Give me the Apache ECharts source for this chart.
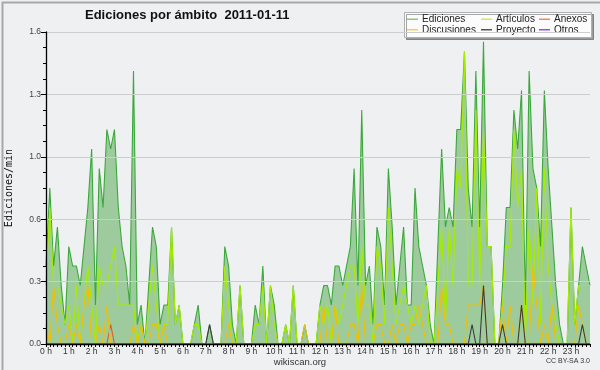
<!DOCTYPE html>
<html>
<head>
<meta charset="utf-8">
<script src="https://cdn.jsdelivr.net/npm/echarts@6/dist/echarts.min.js"></script>
<style>
html,body{margin:0;padding:0;background:#eff0f2;}
#c{width:600px;height:370px;}
</style>
</head>
<body>
<div id="c"></div>
<script>
// Hour tick labels
const hourLabels = ['0 h','1 h','2 h','3 h','4 h','5 h','6 h','7 h','8 h','9 h','10 h','11 h',
  '12 h','13 h','14 h','15 h','16 h','17 h','18 h','19 h','20 h','21 h','22 h','23 h'];
// 10-minute categories
const times = [];
for (let h = 0; h < 24; h++) for (let m = 0; m < 60; m += 10) times.push(h + ':' + (m < 10 ? '0' : '') + m);

// Edits per minute, one value per 10-minute bin (6 per hour)
const ediciones = [
  0.4,0.8,0.4,0.6,0.3,0.1,  0.5,0.4,0.4,0.3,0.5,0.7,  1.0,0.2,0.9,0.7,1.1,1.0,  1.1,0.7,0.5,0.4,0.2,1.4,
  0.1,0.2,0,0.3,0.6,0.5,    0.1,0.2,0.2,0.6,0.1,0.2,  0,0,0,0.1,0.2,0,        0,0.1,0,0,0,0.5,
  0.4,0.1,0,0.3,0,0,        0,0.2,0.1,0.4,0,0.3,      0.2,0,0,0.1,0,0.3,      0,0,0.1,0,0,0,
  0.2,0.3,0.3,0.2,0.4,0.4,  0.3,0.4,0.5,0.9,0.3,1.2,  0.3,0.4,0.1,0.6,0.5,0.2,  0.9,0.6,0.2,0.4,0.6,0.2,
  0.2,0.8,0.5,0.4,0.3,0.1,  0,0.5,1.0,0.6,0.7,0.6,    1.1,1.1,1.5,0.8,0.6,1.4,  0.6,1.55,0.5,0.5,0,0,
  0.3,0.7,0.7,1.2,1.0,1.3,  0.2,1.4,0.9,0.8,0.5,1.3,  0.9,0.6,0.3,0.1,0,0,    0.7,0.1,0.3,0.5,0.4,0.3
];
const articulos = [
  0.3,0.7,0.3,0.3,0.2,0.1,  0.2,0,0.3,0,0.2,0.4,      0.2,0,0.4,0.3,0.3,0.4,  0.5,0.2,0.2,0.2,0.2,0.2,
  0,0.1,0,0.2,0.4,0.2,      0,0.1,0.1,0.6,0.1,0.2,    0,0,0,0.1,0.1,0,        0,0,0,0,0,0.4,
  0.2,0,0,0.3,0,0,          0,0.1,0.1,0.3,0,0.3,      0.1,0,0,0.1,0,0.3,      0,0,0,0,0,0,
  0.2,0.1,0.2,0,0.2,0.1,    0.2,0.3,0.4,0.4,0.1,0.5,  0.2,0.2,0,0.5,0.4,0.1,  0.7,0.4,0.1,0.2,0.3,0.2,
  0.1,0.2,0.1,0.2,0.3,0,    0,0.3,0.6,0.1,0.6,0.3,    0.9,0.8,1.5,0.3,0.3,1.2,  0.3,1.1,0.5,0.5,0,0,
  0.2,0.5,0.5,1.1,0.7,0.9,  0,0.6,0.2,0.8,0.1,0.9,    0.4,0.2,0.1,0,0,0,      0.7,0.1,0.3,0.3,0.3,0.3
];
const anexos = [
  0,0,0,0,0,0, 0,0,0,0,0,0, 0,0,0,0,0,0.1, 0,0,0,0,0,0,
  0,0,0,0,0,0, 0,0,0,0,0,0, 0,0,0,0,0,0,   0,0,0,0,0,0,
  0,0,0,0,0,0, 0,0,0,0,0,0, 0,0,0,0,0,0,   0,0,0,0,0,0,
  0,0,0,0,0,0, 0,0,0,0,0,0, 0,0,0,0,0,0,   0,0,0,0,0,0,
  0,0,0,0,0,0, 0,0,0,0,0,0, 0,0,0,0,0,0,   0,0,0,0,0,0,
  0,0,0,0,0,0, 0,0,0,0,0,0, 0,0,0,0,0,0,   0,0,0,0,0,0
];
const discusiones = [
  0.1,0,0.3,0.1,0,0,   0.1,0,0.1,0,0.2,0.3,   0,0,0.1,0,0.2,0,      0,0,0,0,0,0.1,
  0,0.1,0,0,0.1,0.1,   0,0.1,0,0,0,0,         0,0,0,0,0,0,          0,0,0,0,0,0,
  0.1,0,0,0,0,0,       0,0,0,0,0,0,           0,0,0,0,0,0,          0,0,0.1,0,0,0,
  0,0.2,0,0,0.2,0,     0,0,0.1,0.1,0,0.3,     0,0,0,0.1,0.1,0,      0,0.1,0,0.1,0.1,0,
  0.1,0.1,0.2,0.1,0,0, 0,0,0.3,0.1,0.1,0,     0,0,0,0.2,0.2,0.2,    0.2,0.3,0,0,0,0,
  0.2,0,0.2,0,0,0.2,   0,0,0.4,0.2,0,0.1,     0,0.2,0,0,0,0,        0,0,0.2,0.1,0,0
];
const proyecto = [
  0,0,0,0,0,0, 0,0,0,0,0,0, 0,0,0,0,0,0, 0,0,0,0,0,0,
  0,0,0,0,0,0, 0,0,0,0,0,0, 0,0,0,0,0,0, 0,0.1,0,0,0,0,
  0,0,0,0,0,0, 0,0,0,0,0,0, 0,0,0,0,0,0, 0,0,0,0,0,0,
  0,0,0,0,0,0, 0,0,0,0,0,0, 0,0,0,0,0,0, 0,0,0,0,0,0,
  0,0,0,0,0,0, 0,0,0,0,0,0, 0,0,0,0,0.1,0, 0,0.3,0,0,0,0,
  0.1,0,0,0,0,0.2, 0,0,0,0,0,0, 0,0,0,0,0,0, 0,0,0,0.1,0,0
];
const otros = [
  0,0,0,0,0,0, 0,0,0,0,0,0, 0,0,0,0,0,0, 0,0,0,0,0,0,
  0,0,0,0,0,0, 0,0,0,0,0,0, 0,0,0,0,0,0, 0,0,0,0,0,0,
  0,0,0,0,0,0, 0,0,0,0,0,0, 0,0,0,0,0,0, 0,0,0,0,0,0,
  0,0,0,0,0,0, 0,0,0,0,0,0, 0,0,0,0,0,0, 0,0,0,0,0,0,
  0,0,0,0,0,0, 0,0,0,0,0,0, 0,0,0,0,0,0, 0,0,0,0,0,0,
  0,0,0,0,0,0, 0,0,0,0,0,0, 0,0,0,0,0,0, 0,0,0,0,0,0
];

const seriesNames = ['Ediciones','Artículos','Anexos','Discusiones','Proyecto','Otros'];
const lineColors = ['#3aa83a','#a6ec00','#e05a20','#f0c000','#3c3c3c','#9040e0'];
const legendColors = ['#88c888','#c8ee50','#f08a60','#f8d050','#555555','#9a50e8'];
const seriesData = [ediciones, articulos, anexos, discusiones, proyecto, otros];

const font = 'Liberation Sans, Arial, sans-serif';

const chart = echarts.init(document.getElementById('c'), null, {renderer: 'canvas'});

function legendBlock(left, names) {
  return {
    orient: 'vertical', left: left, top: 14, padding: 0, itemGap: 0,
    itemWidth: 11, itemHeight: 1.5, icon: 'rect', selectedMode: false,
    textStyle: {fontFamily: font, fontSize: 10, color: '#222', lineHeight: 10.5, padding: [0,0,0,-1]},
    data: names.map(n => ({name: n, itemStyle: {color: legendColors[seriesNames.indexOf(n)]}}))
  };
}

const series = seriesNames.map((n, k) => {
  const s = {
    name: n, type: 'line', data: seriesData[k], symbol: 'none', showSymbol: false,
    lineStyle: {color: lineColors[k], width: 1.1},
    itemStyle: {color: lineColors[k]},
    z: 2 + k * 0.01,
    silent: true
  };
  if (k === 0) s.areaStyle = {color: '#9dcb9d', opacity: 1};
  return s;
});

chart.setOption({
  animation: false,
  backgroundColor: '#eff0f2',
  title: {
    text: 'Ediciones por ámbito  2011-01-11',
    left: 85, top: 9, padding: 0,
    textStyle: {fontFamily: font, fontSize: 13, fontWeight: 'bold', color: '#111', lineHeight: 13}
  },
  legend: [
    legendBlock(407, ['Ediciones','Discusiones']),
    legendBlock(481, ['Artículos','Proyecto']),
    legendBlock(539, ['Anexos','Otros'])
  ],
  grid: {left: 46, right: 10, top: 32, bottom: 26, containLabel: false, outerBoundsMode: 'none'},
  xAxis: {
    type: 'category', data: times, boundaryGap: false, z: 10,
    axisLine: {show: true, lineStyle: {color: '#000', width: 1.3}},
    axisTick: {show: true, interval: 0, length: 3, lineStyle: {color: '#000'}},
    axisLabel: {
      interval: 5, margin: 3, fontFamily: font, fontSize: 8.5, color: '#333',
      formatter: (v, i) => hourLabels[Math.floor(i / 6)]
    },
    splitLine: {show: false}
  },
  yAxis: {
    type: 'value', min: 0, max: 1.6, interval: 0.32, z: 10,
    name: 'Ediciones/min', nameLocation: 'middle', nameGap: 32, nameRotate: 90,
    nameTextStyle: {fontFamily: 'DejaVu Sans Mono, monospace', fontSize: 10, color: '#111'},
    axisLine: {show: true, lineStyle: {color: '#000', width: 1.3}},
    axisTick: {show: true, length: 5, lineStyle: {color: '#000'}},
    minorTick: {show: true, splitNumber: 4, length: 3, lineStyle: {color: '#000'}},
    axisLabel: {margin: 5, fontFamily: font, fontSize: 8.5, color: '#444',
      formatter: v => v.toFixed(1)},
    splitLine: {show: true, lineStyle: {color: '#cdcdcd', width: 1}}
  },
  graphic: [
    {type: 'rect', left: 0, top: 0, z: 0, silent: true,
      shape: {width: 599, height: 369}, style: {fill: 'none', stroke: '#a8a8a8', lineWidth: 2}},
    {type: 'rect', left: 404, top: 12, z: 3, silent: true,
      shape: {width: 187, height: 25},
      style: {fill: '#fcfcfc', stroke: '#b0b0b0', lineWidth: 1,
        shadowColor: 'rgba(0,0,0,0.35)', shadowOffsetX: 2, shadowOffsetY: 2, shadowBlur: 0}},
    {type: 'text', left: 'center', top: 357, z: 5, silent: true,
      style: {text: 'wikiscan.org', fontFamily: font, fontSize: 9.5, fill: '#333'}},
    {type: 'text', right: 10, top: 358, z: 5, silent: true,
      style: {text: 'CC BY-SA 3.0', fontFamily: font, fontSize: 7, fill: '#333'}}
  ],
  series: series
});
</script>
</body>
</html>
